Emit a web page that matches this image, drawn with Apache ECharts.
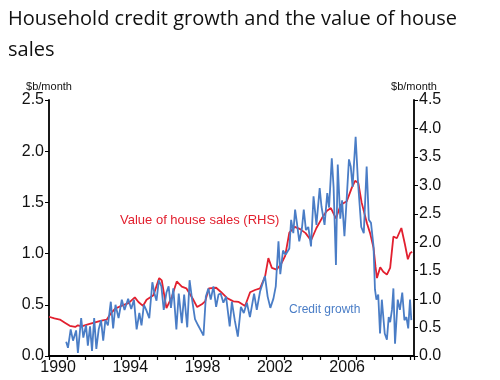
<!DOCTYPE html>
<html><head><meta charset="utf-8">
<script src="https://cdn.jsdelivr.net/npm/echarts@6/dist/echarts.min.js"></script>
<style>html,body{margin:0;padding:0;background:#fff}#c{width:500px;height:380px}</style>
</head><body><div id="c"></div>
<script>
// Credit growth ($b/month, LHS) – dates as decimal years
const creditDates = [1990.95,1991.05,1991.2,1991.33,1991.5,1991.6,1991.78,1991.9,1992.05,1992.15,1992.27,1992.38,1992.5,1992.62,1992.75,1992.88,1993.0,1993.12,1993.26,1993.42,1993.55,1993.68,1993.85,1994.03,1994.18,1994.38,1994.55,1994.7,1994.85,1995.0,1995.12,1995.25,1995.38,1995.55,1995.72,1995.85,1995.95,1996.08,1996.22,1996.35,1996.5,1996.62,1996.75,1996.88,1997.05,1997.18,1997.35,1997.48,1997.65,1997.78,1997.92,1998.08,1998.25,1998.4,1998.55,1998.68,1998.82,1998.95,1999.1,1999.25,1999.38,1999.5,1999.65,1999.8,2000.0,2000.12,2000.28,2000.45,2000.62,2000.78,2000.95,2001.12,2001.35,2001.5,2001.68,2001.95,2002.1,2002.25,2002.42,2002.55,2002.7,2002.8,2002.95,2003.1,2003.3,2003.4,2003.52,2003.62,2003.72,2003.85,2004.0,2004.1,2004.22,2004.35,2004.5,2004.64,2004.8,2004.98,2005.08,2005.25,2005.4,2005.5,2005.65,2005.75,2005.88,2005.98,2006.12,2006.22,2006.35,2006.45,2006.6,2006.7,2006.8,2006.97,2007.1,2007.28,2007.42,2007.58,2007.7,2007.82,2007.96,2008.04,2008.12,2008.22,2008.32,2008.42,2008.58,2008.7,2008.8,2008.88,2008.98,2009.06,2009.15,2009.3,2009.42,2009.55,2009.67,2009.78,2009.88,2009.98,2010.05];
const creditGrowth = [0.14,0.08,0.26,0.15,0.25,0.03,0.37,0.18,0.30,0.10,0.29,0.05,0.37,0.07,0.26,0.35,0.15,0.35,0.30,0.53,0.27,0.50,0.37,0.55,0.45,0.56,0.46,0.55,0.26,0.42,0.30,0.50,0.45,0.37,0.72,0.60,0.54,0.74,0.68,0.45,0.62,0.68,0.47,0.66,0.26,0.61,0.32,0.60,0.28,0.74,0.55,0.36,0.30,0.25,0.20,0.58,0.66,0.55,0.68,0.48,0.60,0.61,0.52,0.58,0.29,0.53,0.35,0.19,0.48,0.42,0.52,0.38,0.61,0.45,0.63,0.78,0.58,0.47,0.56,0.68,1.12,0.80,1.03,0.99,1.05,1.33,1.20,1.43,1.30,1.12,1.25,1.43,1.23,1.26,1.07,1.56,1.28,1.64,1.46,1.28,1.59,1.45,1.93,1.65,0.89,1.87,1.34,1.52,1.17,1.46,1.92,1.85,1.65,2.14,1.70,1.26,1.20,1.85,1.33,1.30,1.07,0.65,0.55,0.60,0.22,0.55,0.22,0.16,0.38,0.33,0.45,0.66,0.12,0.55,0.45,0.62,0.35,0.38,0.27,0.55,0.35];

// Value of house sales ($b/month, RHS)
const salesDates = [1990.0,1990.3,1990.6,1990.9,1991.15,1991.45,1991.6,1991.8,1992.2,1992.55,1992.9,1993.2,1993.4,1993.65,1994.0,1994.4,1994.75,1994.95,1995.2,1995.4,1995.78,1996.1,1996.24,1996.42,1996.5,1996.8,1997.07,1997.35,1997.6,1997.95,1998.2,1998.5,1998.64,1998.85,1999.25,1999.5,1999.85,2000.2,2000.5,2000.85,2001.13,2001.4,2001.68,2001.96,2002.14,2002.33,2002.6,2002.85,2003.07,2003.3,2003.6,2003.9,2004.2,2004.5,2004.8,2005.1,2005.37,2005.6,2005.88,2006.15,2006.48,2006.76,2006.94,2007.12,2007.3,2007.6,2007.77,2007.96,2008.07,2008.15,2008.33,2008.5,2008.7,2008.88,2009.06,2009.25,2009.5,2009.7,2009.86,2009.99,2010.1];
const houseSales = [0.69,0.66,0.64,0.58,0.53,0.51,0.54,0.52,0.56,0.59,0.62,0.64,0.74,0.83,0.88,0.93,1.03,0.95,0.88,0.99,1.07,1.37,1.33,0.99,0.84,1.04,1.31,1.22,1.19,1.01,0.86,0.92,0.96,1.19,1.20,1.13,1.02,0.96,0.95,0.88,1.12,1.16,1.19,1.40,1.72,1.55,1.52,1.62,1.76,2.17,2.27,2.23,2.16,2.03,2.25,2.42,2.55,2.60,2.42,2.66,2.72,2.96,3.08,3.04,2.70,2.33,2.16,1.90,1.57,1.37,1.56,1.48,1.43,1.55,2.10,2.07,2.25,1.96,1.70,1.81,1.83];

const labelYears = [1990,1994,1998,2002,2006];
const xMin = 1990, xMax = 2010.2;

const RED = '#e2202f', BLUE = '#4a7dc6';
const zip = (a,b) => a.map((d,i)=>[d,b[i]]);
const chart = echarts.init(document.getElementById('c'));
const axisFont = {fontFamily:'Liberation Sans, Arial, sans-serif', fontSize:16, color:'#111'};
chart.setOption({
  animation:false,
  title:{text:'Household credit growth and the value of house\nsales', left:3, top:-1,
    textStyle:{fontFamily:'Open Sans', fontSize:20, fontWeight:'normal', color:'#111', lineHeight:31}},
  grid:{left:49, right:86, top:100, bottom:24, containLabel:false},
  xAxis:[
    {type:'value', min:xMin, max:xMax, interval:1, position:'bottom',
     axisLine:{lineStyle:{color:'#000', width:1.8}}, axisTick:{show:true, length:4, lineStyle:{color:'#000',width:1.2}},
     axisLabel:{show:false}, splitLine:{show:false}},
    {type:'value', min:xMin, max:xMax, interval:0.5, position:'bottom',
     axisLine:{show:false}, axisTick:{show:false}, splitLine:{show:false},
     axisLabel:Object.assign({margin:4, showMinLabel:true, showMaxLabel:true,
       formatter:v=>{const y=Math.round((v-0.5)*10)/10; return labelYears.includes(y)?String(y):'';}}, axisFont)}
  ],
  yAxis:[
    {type:'value', min:0, max:2.5, interval:0.5, position:'left', name:'$b/month',
     nameLocation:'end', nameGap:6, nameTextStyle:{fontFamily:'Liberation Sans, Arial', fontSize:11, color:'#111', align:'center'},
     axisLine:{show:true, lineStyle:{color:'#000', width:1.8}}, axisTick:{show:true, length:4, lineStyle:{color:'#000'}},
     axisLabel:Object.assign({margin:5, formatter:v=>v.toFixed(1)}, axisFont), splitLine:{show:false}},
    {type:'value', min:0, max:4.5, interval:0.5, position:'right', name:'$b/month',
     nameLocation:'end', nameGap:6, nameTextStyle:{fontFamily:'Liberation Sans, Arial', fontSize:11, color:'#111', align:'center'},
     axisLine:{show:true, lineStyle:{color:'#000', width:1.8}}, axisTick:{show:true, length:4, lineStyle:{color:'#000'}},
     axisLabel:Object.assign({margin:5, formatter:v=>v.toFixed(1)}, axisFont), splitLine:{show:false}}
  ],
  series:[
    {name:'Value of house sales (RHS)', type:'line', xAxisIndex:0, yAxisIndex:1, data:zip(salesDates, houseSales),
     showSymbol:false, lineStyle:{color:RED, width:1.8}, itemStyle:{color:RED}, z:2},
    {name:'Credit growth', type:'line', xAxisIndex:0, yAxisIndex:0, data:zip(creditDates, creditGrowth),
     showSymbol:false, lineStyle:{color:BLUE, width:1.8}, itemStyle:{color:BLUE}, z:3}
  ],
  graphic:[
    {type:'text', left:120, top:214, style:{text:'Value of house sales (RHS)', fill:RED, font:'13px "Liberation Sans", Arial'}},
    {type:'text', left:289, top:304, style:{text:'Credit growth', fill:BLUE, font:'12px "Liberation Sans", Arial'}}
  ]
});
</script></body></html>
